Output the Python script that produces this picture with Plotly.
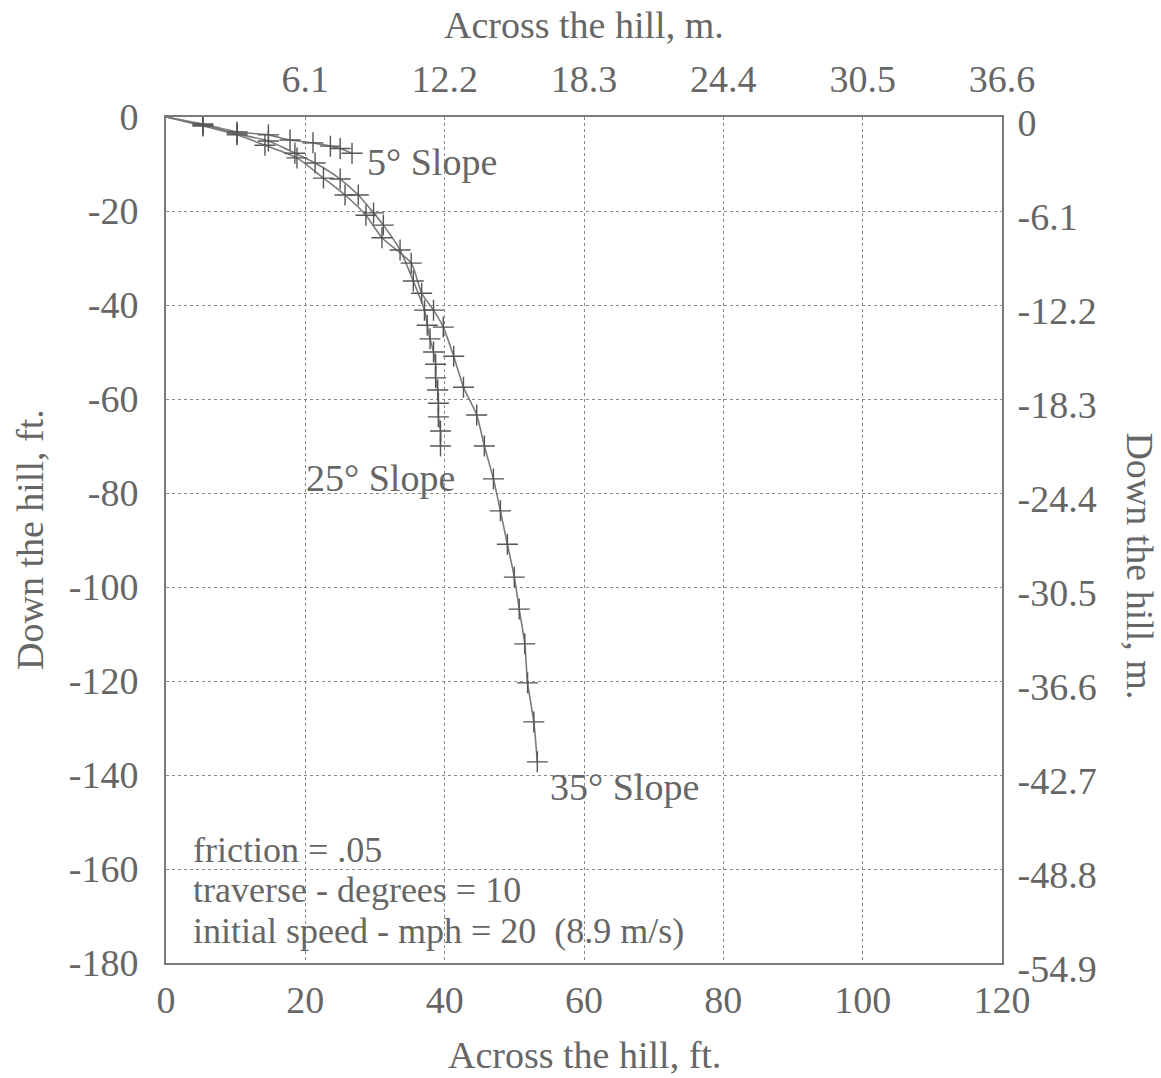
import plotly.graph_objects as go

# ---- data (feet) ----
x_slope5 = [0, 5.3, 10.2, 14.7, 17.8, 21.1, 23.6, 25.0, 26.7]
y_slope5 = [0, -1.5, -3.2, -3.8, -4.9, -5.5, -6.2, -6.7, -7.7]

x_slope25 = [0, 5.3, 10.2, 14.7, 18.5, 21.4, 25.0, 27.6, 29.8, 31.2, 33.6, 35.5, 37.1,
             37.5, 37.9, 38.4, 38.7, 38.7, 39.0, 39.1, 39.1, 39.4, 39.4]
y_slope25 = [0, -1.7, -3.6, -5.1, -7.7, -9.8, -13.2, -16.6, -20.4, -23.0, -28.3, -34.9, -41.1,
             -44.3, -47.2, -50.0, -52.6, -55.5, -58.1, -60.9, -63.8, -66.8, -70.0]

x_slope35 = [0, 5.3, 10.2, 14.2, 18.8, 22.6, 25.7, 28.7, 31.0, 35.2, 36.7, 38.4, 39.8, 41.3,
             42.7, 44.6, 45.7, 47.0, 48.0, 49.0, 50.0, 50.7, 51.5, 51.9, 52.8, 53.3]
y_slope35 = [0, -1.9, -3.8, -6.0, -8.7, -13.0, -16.6, -20.9, -25.7, -31.1, -37.5, -41.1, -44.7,
             -50.9, -57.5, -63.4, -70.0, -77.0, -83.8, -90.9, -97.9, -104.7, -112.1, -120.4,
             -128.7, -137.2]

x_ticks_ft = [0, 20, 40, 60, 80, 100, 120]
x_ticks_ft_text = ["0", "20", "40", "60", "80", "100", "120"]
y_ticks_ft = [0, -20, -40, -60, -80, -100, -120, -140, -160, -180]
y_ticks_ft_text = ["0", "-20", "-40", "-60", "-80", "-100", "-120", "-140", "-160", "-180"]
x_ticks_m_vals = [20, 40, 60, 80, 100, 120]
x_ticks_m_text = ["6.1", "12.2", "18.3", "24.4", "30.5", "36.6"]
y_ticks_m_text = ["0", "-6.1", "-12.2", "-18.3", "-24.4", "-30.5", "-36.6", "-42.7", "-48.8", "-54.9"]
x_range = [0, 120]
y_range = [-180, 0]

FONT = "Liberation Serif, Times New Roman, serif"
TXT = "#666666"
LINE = "#7a7a7a"
MARK = "#555555"

fig = go.Figure()

for xs, ys in [(x_slope5, y_slope5), (x_slope25, y_slope25), (x_slope35, y_slope35)]:
    fig.add_trace(go.Scatter(x=xs, y=ys, mode="lines",
                             line=dict(color=LINE, width=1.6, shape="spline", smoothing=0.6),
                             hoverinfo="skip", showlegend=False))
    fig.add_trace(go.Scatter(x=xs[1:], y=ys[1:], mode="markers", xaxis="x2", yaxis="y2",
                             marker=dict(symbol="cross-thin", size=15, line=dict(color=MARK, width=1.4)),
                             hoverinfo="skip", showlegend=False))

axis_common = dict(showline=True, linecolor="#7a7a7a", linewidth=2, mirror=True, zeroline=False, ticks="",
                   tickfont=dict(family=FONT, size=38, color=TXT))

fig.update_layout(
    width=1161, height=1078, autosize=False,
    margin=dict(l=166, r=159, t=117, b=115),
    paper_bgcolor="white", plot_bgcolor="white",
    font=dict(family=FONT, color=TXT),
    xaxis=dict(range=x_range, tickvals=x_ticks_ft, ticktext=x_ticks_ft_text, showgrid=True, griddash="dot",
               gridcolor="#8a8a8a", gridwidth=1.2, ticklabelstandoff=2, **axis_common),
    yaxis=dict(range=y_range, tickvals=y_ticks_ft, ticktext=y_ticks_ft_text, showgrid=True, griddash="dot",
               gridcolor="#8a8a8a", gridwidth=1.2, ticklabelstandoff=18, **axis_common),
    xaxis2=dict(range=x_range, overlaying="x", side="top", tickvals=x_ticks_m_vals, ticktext=x_ticks_m_text,
                showgrid=False, ticklabelstandoff=8, anchor="y2", **axis_common),
    yaxis2=dict(range=y_range, overlaying="y", side="right", tickvals=y_ticks_ft, ticktext=y_ticks_m_text,
                showgrid=False, ticklabelstandoff=6, ticklabelshift=6, anchor="x2", **axis_common),
)

ann_font = dict(family=FONT, size=38, color=TXT)
box_font = dict(family=FONT, size=36, color=TXT)
fig.add_annotation(x=28.6, y=-9.6, xref="x", yref="y", text="5° Slope", showarrow=False,
                   xanchor="left", yanchor="middle", font=ann_font)
fig.add_annotation(x=19.8, y=-76.8, xref="x", yref="y", text="25° Slope", showarrow=False,
                   xanchor="left", yanchor="middle", font=ann_font)
fig.add_annotation(x=54.8, y=-142.6, xref="x", yref="y", text="35° Slope", showarrow=False,
                   xanchor="left", yanchor="middle", font=ann_font)
fig.add_annotation(x=3.6, y=-155.9, xref="x", yref="y", text="friction = .05", showarrow=False,
                   xanchor="left", yanchor="middle", font=box_font)
fig.add_annotation(x=3.6, y=-164.5, xref="x", yref="y", text="traverse - degrees = 10", showarrow=False,
                   xanchor="left", yanchor="middle", font=box_font)
fig.add_annotation(x=3.6, y=-173.1, xref="x", yref="y", text="initial speed - mph = 20  (8.9 m/s)",
                   showarrow=False, xanchor="left", yanchor="middle", font=box_font)

# axis titles
fig.add_annotation(x=0.5, y=1, xref="paper", yref="paper", yshift=92, text="Across the hill, m.",
                   showarrow=False, xanchor="center", yanchor="middle", font=ann_font)
fig.add_annotation(x=0.5, y=0, xref="paper", yref="paper", yshift=-92, text="Across the hill, ft.",
                   showarrow=False, xanchor="center", yanchor="middle", font=ann_font)
fig.add_annotation(x=0, y=0.5, xref="paper", yref="paper", xshift=-136, text="Down the hill, ft.",
                   showarrow=False, textangle=-90, xanchor="center", yanchor="middle", font=ann_font)
fig.add_annotation(x=1, y=0.47, xref="paper", yref="paper", xshift=138, text="Down the hill, m.",
                   showarrow=False, textangle=90, xanchor="center", yanchor="middle", font=ann_font)

fig.write_html("out.html")
